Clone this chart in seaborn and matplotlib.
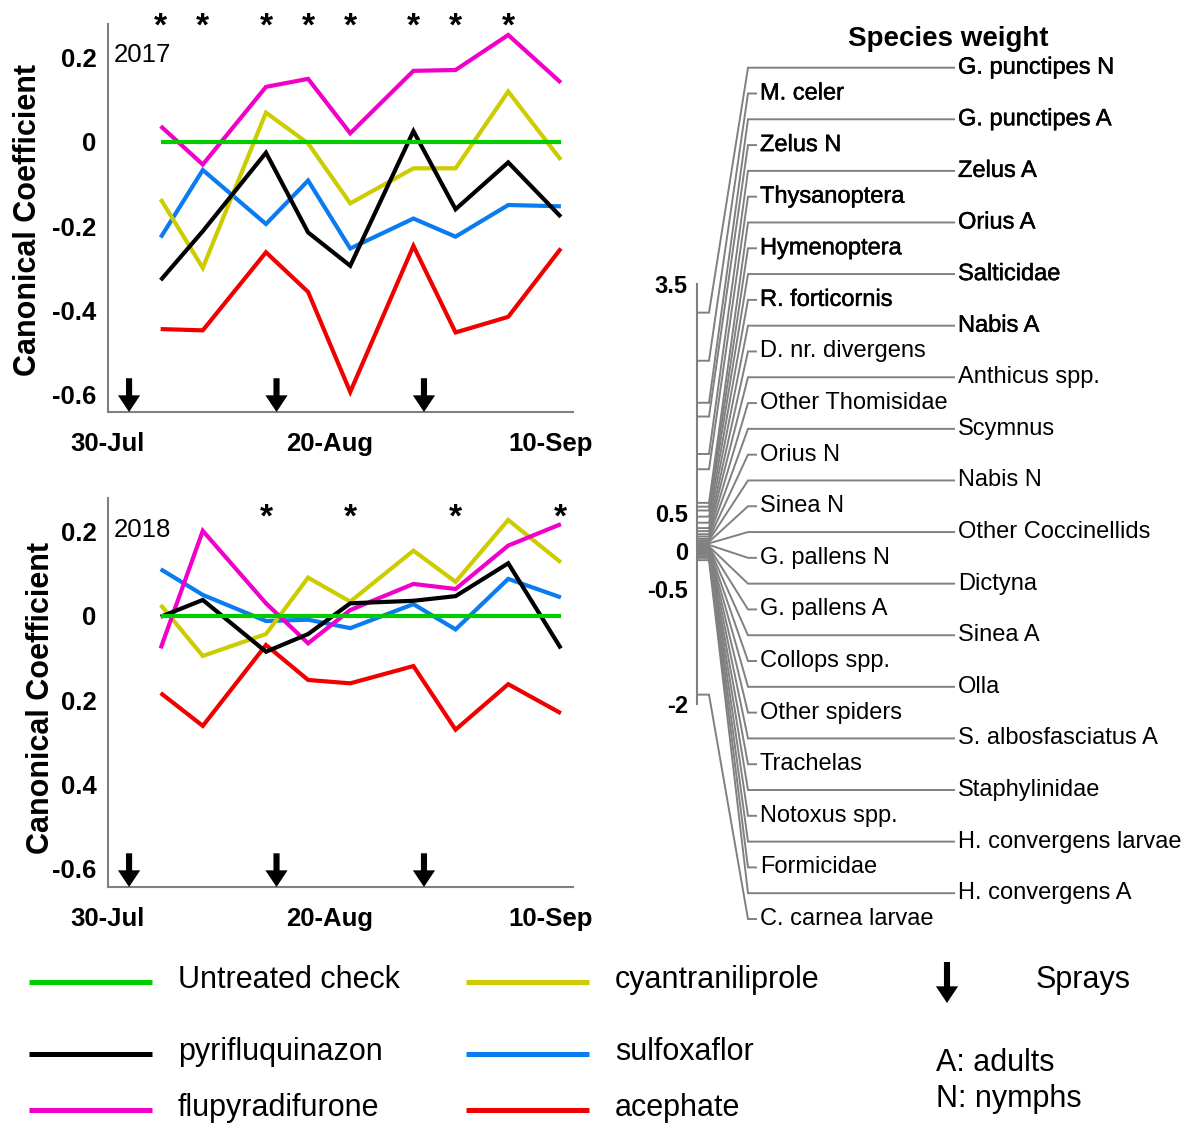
import numpy as np
import pandas as pd
import matplotlib
matplotlib.use("Agg")
import matplotlib.pyplot as plt
import matplotlib.patheffects as pe
import matplotlib.transforms as mtransforms
import seaborn as sns

# ------------------------------------------------------------------ data
sample_dates = ["08-04", "08-08", "08-14", "08-18", "08-22", "08-28", "09-01", "09-06", "09-11"]
spray_dates = ["08-01", "08-15", "08-29"]
axis_start = "07-30"
xtick_dates = ["07-30", "08-20", "09-10"]
xtick_labels = ["30-Jul", "20-Aug", "10-Sep"]

treatments = ["Untreated check", "pyrifluquinazon", "flupyradifurone",
              "cyantraniliprole", "sulfoxaflor", "acephate"]
treatment_colors = ["#00cc00", "#000000", "#f000c8", "#cccc00", "#0a7cf0", "#f00000"]
draw_order = ["acephate", "sulfoxaflor", "cyantraniliprole", "flupyradifurone",
              "pyrifluquinazon", "Untreated check"]

untreated_2017 = [0, 0, 0, 0, 0, 0, 0, 0, 0]
pyrifluquinazon_2017 = [-0.328, -0.212, -0.026, -0.215, -0.294, 0.025, -0.160, -0.049, -0.178]
flupyradifurone_2017 = [0.037, -0.054, 0.130, 0.149, 0.020, 0.168, 0.170, 0.253, 0.140]
cyantraniliprole_2017 = [-0.136, -0.299, 0.069, -0.004, -0.146, -0.063, -0.063, 0.119, -0.043]
sulfoxaflor_2017 = [-0.227, -0.067, -0.195, -0.092, -0.253, -0.182, -0.225, -0.150, -0.153]
acephate_2017 = [-0.444, -0.447, -0.262, -0.356, -0.593, -0.247, -0.452, -0.415, -0.253]
signif_2017 = [1, 1, 1, 1, 1, 1, 1, 1, 0]

untreated_2018 = [0, 0, 0, 0, 0, 0, 0, 0, 0]
pyrifluquinazon_2018 = [-0.002, 0.038, -0.085, -0.043, 0.030, 0.036, 0.047, 0.125, -0.077]
flupyradifurone_2018 = [-0.077, 0.202, 0.030, -0.065, 0.014, 0.076, 0.064, 0.167, 0.218]
cyantraniliprole_2018 = [0.026, -0.095, -0.043, 0.091, 0.034, 0.155, 0.081, 0.228, 0.127]
sulfoxaflor_2018 = [0.111, 0.050, -0.012, -0.009, -0.029, 0.028, -0.032, 0.088, 0.044]
acephate_2018 = [-0.183, -0.261, -0.069, -0.152, -0.160, -0.119, -0.270, -0.162, -0.231]
signif_2018 = [0, 0, 1, 0, 1, 0, 1, 0, 1]

yticks = [0.2, 0, -0.2, -0.4, -0.6]
ytick_labels_2017 = ["0.2", "0", "-0.2", "-0.4", "-0.6"]
ytick_labels_2018 = ["0.2", "0", "0.2", "0.4", "-0.6"]

species = ["G. punctipes N", "M. celer", "G. punctipes A", "Zelus N", "Zelus A",
           "Thysanoptera", "Orius A", "Hymenoptera", "Salticidae", "R. forticornis",
           "Nabis A", "D. nr. divergens", "Anthicus spp.", "Other Thomisidae", "Scymnus",
           "Orius N", "Nabis N", "Sinea N", "Other Coccinellids", "G. pallens N",
           "Dictyna", "G. pallens A", "Sinea A", "Collops spp.", "Olla",
           "Other spiders", "S. albosfasciatus A", "Trachelas", "Staphylinidae",
           "Notoxus spp.", "H. convergens larvae", "Formicidae", "H. convergens A",
           "C. carnea larvae"]
species_weight = [3.12, 2.49, 1.94, 1.76, 1.27, 1.07, 0.63, 0.58, 0.53, 0.45,
                  0.37, 0.30, 0.26, 0.22, 0.19, 0.16, 0.14, 0.12, 0.10, 0.08,
                  0.06, 0.05, 0.04, 0.03, 0.02, 0.01, 0.00, -0.02, -0.03, -0.05,
                  -0.07, -0.09, -0.12, -1.88]
n_emphasized = 11
weight_ticks = [-2, -1.5, -1, -0.5, 0, 0.5, 1, 1.5, 2, 2.5, 3, 3.5]
weight_tick_labels = ["-2", "", "", "-0.5", "0", "0.5", "", "", "", "", "", "3.5"]

values_2017 = dict(zip(treatments, [untreated_2017, pyrifluquinazon_2017, flupyradifurone_2017,
                                    cyantraniliprole_2017, sulfoxaflor_2017, acephate_2017]))
values_2018 = dict(zip(treatments, [untreated_2018, pyrifluquinazon_2018, flupyradifurone_2018,
                                    cyantraniliprole_2018, sulfoxaflor_2018, acephate_2018]))
palette = dict(zip(treatments, treatment_colors))

# ------------------------------------------------------------------ style
sns.set_style("white")
plt.rcParams['font.family'] = ['Liberation Sans', 'DejaVu Sans']
plt.rcParams['text.color'] = 'black'
plt.rcParams['xtick.labelcolor'] = 'black'
plt.rcParams['ytick.labelcolor'] = 'black'
GRAY = "#808080"

W, H = 1184, 1123
fig = plt.figure(figsize=(W / 100, H / 100), dpi=100)


def px_rect(left, top, right, bottom):
    return [left / W, 1 - bottom / H, (right - left) / W, (bottom - top) / H]


def make_panel(rect, year, values, ylim, ylabels, signif, year_y, star_y):
    ax = fig.add_axes(rect)
    ax.set_facecolor('none')
    dates = pd.to_datetime([f"{year}-{d}" for d in sample_dates])
    rows = []
    for t in treatments:
        for d, v in zip(dates, values[t]):
            rows.append({"date": d, "coef": v, "treatment": t})
    df = pd.DataFrame(rows)
    sns.lineplot(data=df, x="date", y="coef", hue="treatment", hue_order=draw_order,
                 palette=palette, linewidth=3.0, legend=False, ax=ax, sort=False,
                 solid_capstyle='butt', solid_joinstyle='miter')
    start = pd.Timestamp(f"{year}-{axis_start}")
    ax.set_xlim(start, start + pd.Timedelta(days=44.15))
    ax.set_ylim(*ylim)
    ax.set_xlabel("")
    ax.set_ylabel("")
    ax.set_xticks(pd.to_datetime([f"{year}-{d}" for d in xtick_dates]), xtick_labels,
                  fontweight='bold', fontsize=18.5)
    ax.set_yticks(yticks, ylabels, fontweight='bold', fontsize=18.5)
    ax.tick_params(axis='x', direction='out', length=6.5, width=1.5, color=GRAY, pad=8,
                   labelcolor='black')
    ax.tick_params(axis='y', direction='out', length=4.3, width=1.5, color=GRAY, pad=4,
                   labelcolor='black')
    for s in ['top', 'right']:
        ax.spines[s].set_visible(False)
    for s in ['left', 'bottom']:
        ax.spines[s].set_color(GRAY)
        ax.spines[s].set_linewidth(1.5)
    trans = mtransforms.blended_transform_factory(ax.transData, ax.transAxes)
    for d, s in zip(dates, signif):
        if s:
            ax.text(d, star_y, "*", transform=trans, ha='center', va='baseline',
                    fontsize=24, fontweight='bold', clip_on=False)
    arrow_len = 0.08
    for d in pd.to_datetime([f"{year}-{s}" for s in spray_dates]):
        ax.annotate("", xy=(d, ylim[0]), xytext=(d, ylim[0] + arrow_len),
                    arrowprops=dict(arrowstyle="simple,head_width=0.8,head_length=0.6,tail_width=0.22",
                                    fc='black', ec='none', shrinkA=0, shrinkB=0,
                                    mutation_scale=20),
                    annotation_clip=False)
    ax.text(0.012, year_y, str(year), transform=ax.transAxes, fontsize=18.5,
            ha='left', va='baseline')
    return ax


ax1 = make_panel(px_rect(108, 24, 573, 412), 2017, values_2017, (-0.6405, 0.279),
                 ytick_labels_2017, signif_2017, 0.902, 0.970)
ax2 = make_panel(px_rect(108, 498, 573, 887), 2018, values_2018, (-0.6435, 0.280),
                 ytick_labels_2018, signif_2018, 0.899, 0.926)

# ------------------------------------------------------------------ species weight panel
ax3 = fig.add_axes(px_rect(697, 40, 1184, 940))
ax3.set_facecolor('none')
px_per_unit, zero_px = 76.4, 551
ax3.set_ylim((zero_px - 940) / px_per_unit, (zero_px - 40) / px_per_unit)
ax3.set_xlim(697, 1184)
slot_w = (zero_px - np.linspace(67.7, 919, len(species))) / px_per_unit
for i, (name, w) in enumerate(zip(species, species_weight)):
    right = (i % 2 == 0)
    end = 955 if right else 757
    ax3.plot([697, 709, 748, end], [w, w, slot_w[i], slot_w[i]], color=GRAY, lw=1.4,
             clip_on=False, solid_joinstyle='miter', solid_capstyle='butt')
    kw = {}
    if i < n_emphasized:
        kw['path_effects'] = [pe.withStroke(linewidth=0.35, foreground='black')]
    ax3.text(958 if right else 760, slot_w[i], name, fontsize=17, ha='left',
             va='center', clip_on=False, color='black', **kw)
ax3.set_yticks(weight_ticks, weight_tick_labels, fontweight='bold', fontsize=17)
ax3.set_xticks([])
ax3.tick_params(axis='y', direction='out', length=3.6, width=1.5, color=GRAY, pad=3,
                labelcolor='black')
for s in ['top', 'right', 'bottom']:
    ax3.spines[s].set_visible(False)
ax3.spines['left'].set_bounds(-2, 3.5)
ax3.spines['left'].set_color(GRAY)
ax3.spines['left'].set_linewidth(1.5)

# ------------------------------------------------------------------ overlay: titles + legend
ov = fig.add_axes([0, 0, 1, 1])
ov.set_xlim(0, W)
ov.set_ylim(H, 0)
ov.axis('off')
ov.patch.set_alpha(0)

ov.text(948, 39, "Species weight", fontsize=20, fontweight='bold', ha='center', va='center')
ov.text(28.5, 220, "Canonical Coefficient", fontsize=22, fontweight='bold', rotation=90,
        ha='center', va='center')
ov.text(41, 698, "Canonical Coefficient", fontsize=22, fontweight='bold', rotation=90,
        ha='center', va='center')

legend_pos = {"Untreated check": (29, 982), "pyrifluquinazon": (29, 1054),
              "flupyradifurone": (29, 1110), "cyantraniliprole": (466, 982),
              "sulfoxaflor": (466, 1054), "acephate": (466, 1110)}
for t in treatments:
    x0, y0 = legend_pos[t]
    ov.plot([x0, x0 + 123], [y0, y0], color=palette[t], lw=3.6, solid_capstyle='butt')
    ov.text(x0 + 149, y0 - 2, t, fontsize=22, ha='left', va='center')

ov.annotate("", xy=(947, 1003), xytext=(947, 962),
            arrowprops=dict(arrowstyle="simple,head_width=0.8,head_length=0.6,tail_width=0.22",
                            fc='black', ec='none', shrinkA=0, shrinkB=0, mutation_scale=20))
ov.text(1036, 980, "Sprays", fontsize=22, ha='left', va='center')
ov.text(936, 1063, "A: adults", fontsize=22, ha='left', va='center')
ov.text(936, 1099, "N: nymphs", fontsize=22, ha='left', va='center')

fig.savefig("out.png", dpi=100)
